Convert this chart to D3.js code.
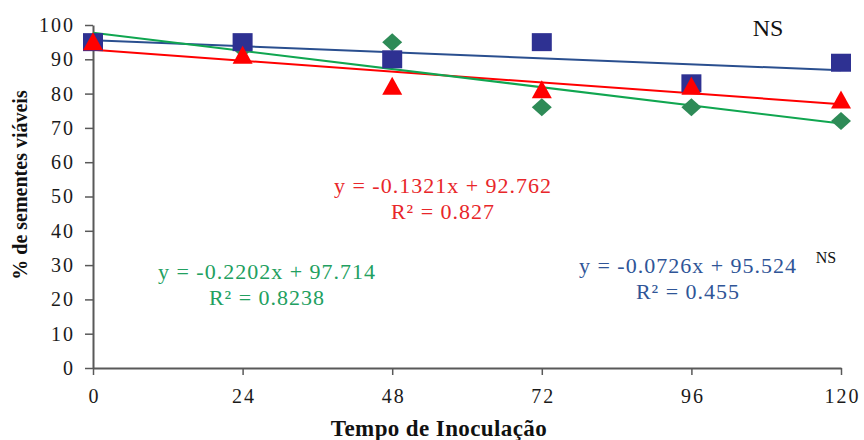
<!DOCTYPE html>
<html>
<head>
<meta charset="utf-8">
<script src="https://cdn.jsdelivr.net/npm/d3@7"></script>
<style>
  body { margin: 0; background: #fff; }
  svg { display: block; font-family: 'Liberation Serif', 'Times New Roman', serif; }
</style>
</head>
<body>
<svg id="chart" width="864" height="440"></svg>
<script>
// data
const tempos = [0, 24, 48, 72, 96, 120]
const azul = [95, 95, 90, 95, 83, 89]
const vermelho = [95, 91, 82, 81, 82, 78]
const verde = [95, 93, 95, 76, 76, 72]
const yTicks = [0, 10, 20, 30, 40, 50, 60, 70, 80, 90, 100]

// trend lines (azul, vermelho, verde)
const slopes = [-0.0726, -0.1321, -0.2202]
const intercepts = [95.524, 92.762, 97.714]
const r2 = ['0.455', '0.827', '0.8238']

function makeChart() {
  const svg = d3.select('#chart')
  const left = 93, right = 841, top = 25, bottom = 368

  const x = d3.scaleLinear().domain([0, 120]).range([left, right])
  const y = d3.scaleLinear().domain([0, 100]).range([bottom, top])

  // axes
  const yAxis = svg.append('g')
    .attr('transform', `translate(${left},0)`)
    .call(d3.axisLeft(y).tickValues(yTicks).tickSize(8).tickPadding(10).tickSizeOuter(0))
  const xAxis = svg.append('g')
    .attr('transform', `translate(0,${bottom})`)
    .call(d3.axisBottom(x).tickValues(tempos).tickSize(7).tickPadding(14).tickSizeOuter(0))
  for (const ax of [yAxis, xAxis]) {
    ax.select('.domain').attr('stroke', '#595959').attr('stroke-width', 2)
    ax.selectAll('.tick line').attr('stroke', '#595959').attr('stroke-width', 1.5)
    ax.selectAll('.tick text')
      .attr('fill', '#1a1a1a')
      .style('font-family', "'Liberation Serif', serif")
      .style('font-size', '20px')
      .style('letter-spacing', '2px')
  }
  xAxis.selectAll('.tick text').attr('dx', '1px')

  // trend lines
  const lineColors = ['#2a4f8f', '#ff0000', '#10a650']
  slopes.forEach((m, i) => {
    svg.append('line')
      .attr('x1', x(0)).attr('y1', y(intercepts[i]))
      .attr('x2', x(120)).attr('y2', y(intercepts[i] + m * 120))
      .attr('stroke', lineColors[i])
      .attr('stroke-width', 2)
  })

  // markers: diamonds under squares under triangles
  svg.append('g').selectAll('path')
    .data(tempos)
    .join('path')
    .attr('d', 'M0,-9L10,0L0,9L-10,0Z')
    .attr('transform', (t, i) => `translate(${x(t)},${y(verde[i])})`)
    .attr('fill', '#2e8b57')

  svg.append('g').selectAll('rect')
    .data(tempos)
    .join('rect')
    .attr('x', t => x(t) - 10)
    .attr('y', (t, i) => y(azul[i]) - 9)
    .attr('width', 20)
    .attr('height', 18)
    .attr('fill', '#2e3192')

  svg.append('g').selectAll('path')
    .data(tempos)
    .join('path')
    .attr('d', 'M0,-10L10,8L-10,8Z')
    .attr('transform', (t, i) => `translate(${x(t)},${y(vermelho[i])})`)
    .attr('fill', '#ff0000')

  // equations
  const eqs = [
    { cx: 688, y1: 273, color: '#2f5597' },
    { cx: 443, y1: 193, color: '#e8262a' },
    { cx: 267, y1: 279, color: '#22a060' }
  ]
  eqs.forEach((e, i) => {
    const g = svg.append('g')
      .attr('fill', e.color)
      .attr('text-anchor', 'middle')
      .style('font-size', '22px')
      .style('letter-spacing', '1px')
    g.append('text')
      .attr('x', e.cx).attr('y', e.y1)
      .text(`y = ${slopes[i]}x + ${intercepts[i]}`)
    g.append('text')
      .attr('x', e.cx).attr('y', e.y1 + 26)
      .text(`R² = ${r2[i]}`)
  })

  // NS labels
  svg.append('text')
    .attr('x', 768).attr('y', 36)
    .attr('text-anchor', 'middle')
    .style('font-size', '24px')
    .attr('fill', '#111')
    .text('NS')
  svg.append('text')
    .attr('x', 826).attr('y', 263)
    .attr('text-anchor', 'middle')
    .style('font-size', '16px')
    .attr('fill', '#111')
    .text('NS')

  // axis titles
  svg.append('text')
    .attr('x', 439).attr('y', 436)
    .attr('text-anchor', 'middle')
    .style('font-size', '23px')
    .style('font-weight', 'bold')
    .style('letter-spacing', '0.4px')
    .attr('fill', '#111')
    .text('Tempo de Inoculação')
  svg.append('text')
    .attr('transform', 'translate(27,185) rotate(-90)')
    .attr('text-anchor', 'middle')
    .style('font-size', '20px')
    .style('font-weight', 'bold')
    .attr('fill', '#111')
    .text('% de sementes viáveis')
}

window.onload = makeChart
</script>
</body>
</html>
